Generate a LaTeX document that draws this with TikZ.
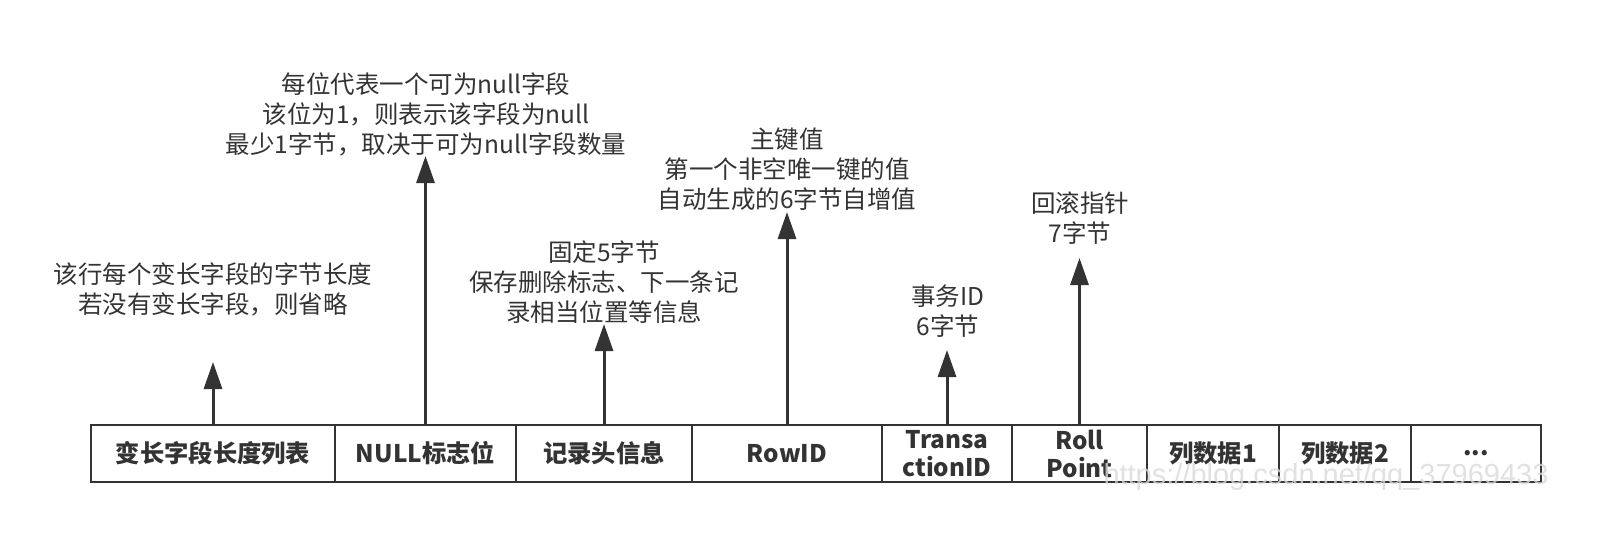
\documentclass[tikz,border=0pt]{standalone}
\usepackage{fontspec}
\setmainfont{Noto Sans CJK SC}
\newfontfamily\wmfont{Liberation Sans}
\usetikzlibrary{arrows.meta}
\definecolor{ink}{HTML}{333333}
\tikzset{
  cell/.style={draw=ink, line width=2.6pt, inner sep=0pt, minimum height=57pt, text=ink,
    font=\fontsize{24.3}{28}\selectfont\bfseries, align=center},
  note/.style={text=ink, inner sep=0pt, align=center, font=\fontsize{24.5}{30}\selectfont},
  arr/.style={draw=ink, line width=3pt, -{Triangle[length=27pt,width=18pt]}},
}
\begin{document}
\begin{tikzpicture}[x=1pt,y=-1pt]
\useasboundingbox (0,0) rectangle (1606,542);
\node[cell, minimum width=244pt] (c1) at (213,453.5) {变长字段长度列表};
\node[cell, minimum width=181pt] (c2) at (425.5,453.5) {NULL标志位};
\node[cell, minimum width=176pt] (c3) at (604,453.5) {记录头信息};
\node[cell, minimum width=190pt] (c4) at (787,453.5) {RowID};
\node[cell, minimum width=130pt] (c5) at (947,453.5) {Transa\\ctionID};
\node[cell, minimum width=135pt] (c6) at (1079.5,453.5) {Roll\\Point};
\node[cell, minimum width=132pt] (c7) at (1213,453.5) {列数据1};
\node[cell, minimum width=132pt] (c8) at (1345,453.5) {列数据2};
\node[cell, minimum width=130pt] (c9) at (1476,453.5) {...};

\node[note] (n1) at (213,289) {该行每个变长字段的字节长度\\若没有变长字段，则省略};
\node[note] (n2) at (426,114) {每位代表一个可为null字段\\该位为1，则表示该字段为null\\最少1字节，取决于可为null字段数量};
\node[note] (n3) at (604,282) {固定5字节\\保存删除标志、下一条记\\录相当位置等信息};
\node[note] (n4) at (787,169) {主键值\\第一个非空唯一键的值\\自动生成的6字节自增值};
\node[note] (n5) at (948,311) {事务ID\\6字节};
\node[note] (n6) at (1080,218) {回滚指针\\7字节};

\coordinate (t1) at (213,362);
\coordinate (t2) at (425.5,156);
\coordinate (t3) at (604,324);
\coordinate (t4) at (787,212);
\coordinate (t5) at (947,350);
\coordinate (t6) at (1079.5,258);

\draw[arr] (c1.north) -- (t1);
\draw[arr] (c2.north) -- (t2);
\draw[arr] (c3.north) -- (t3);
\draw[arr] (c4.north) -- (t4);
\draw[arr] (c5.north) -- (t5);
\draw[arr] (c6.north) -- (t6);

\node[text=black!15, inner sep=0pt, font=\wmfont\fontsize{29}{30}\selectfont, opacity=0.8] (wm) at (1326,477) {https://blog.csdn.net/qq\_37969433};
\end{tikzpicture}
\end{document}
